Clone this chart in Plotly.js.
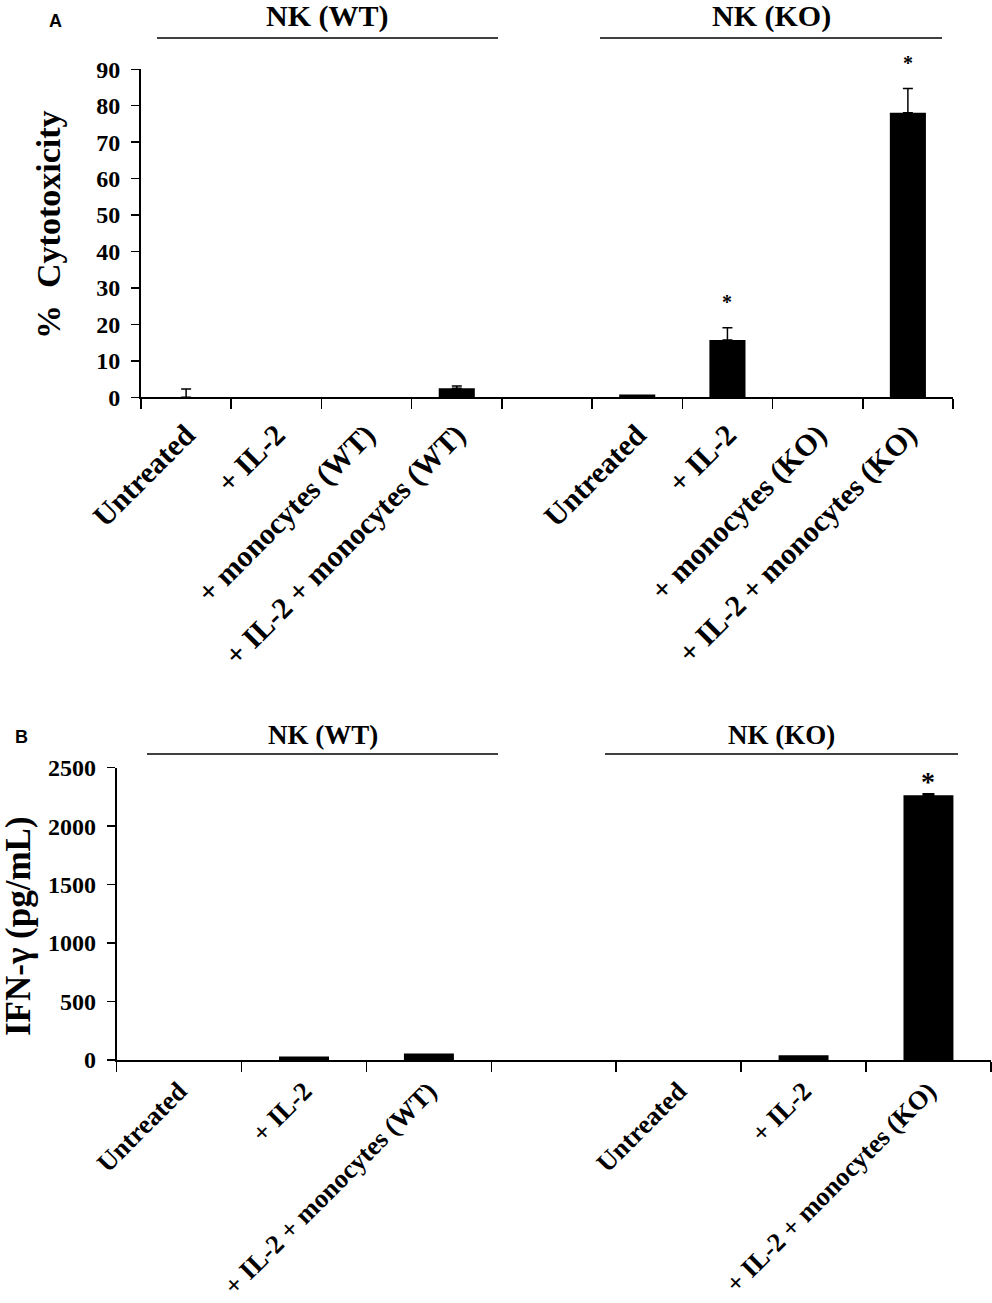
<!DOCTYPE html>
<html>
<head>
<meta charset="utf-8">
<script src="https://cdn.plot.ly/plotly-3.0.1.min.js"></script>
<style>
  body { margin: 0; background: #fff; }
  #chart { width: 992px; height: 1303px; }
</style>
</head>
<body>
<div id="chart"></div>
<script>
// Panel A: % cytotoxicity (blank slot separates WT and KO groups)
const catsA = ['Untreated', '+ IL-2', '+ monocytes (WT)', '+ IL-2 + monocytes (WT)', '',
               'Untreated', '+ IL-2', '+ monocytes (KO)', '+ IL-2 + monocytes (KO)'];
const cytotox = [0, 0, 0, 2.5, null, 0.8, 15.7, 0, 78.1];
const cytotoxErr = [2.3, null, null, 0.6, null, null, 3.4, null, 6.6];
const sigA = ['', '', '', '', '', '', '*', '', '*'];

// Panel B: IFN-gamma secretion
const catsB = ['Untreated', '+ IL-2', '+ IL-2 + monocytes (WT)', '',
               'Untreated', '+ IL-2', '+ IL-2 + monocytes (KO)'];
const ifng = [0, 30, 55, null, 0, 40, 2264];
const ifngErr = [null, null, null, null, null, null, 14];
const sigB = ['', '', '', '', '', '', '*'];

const ticksA = [0, 10, 20, 30, 40, 50, 60, 70, 80, 90];
const ticksB = [0, 500, 1000, 1500, 2000, 2500];

const SERIF = 'Liberation Serif, Times New Roman, serif';
const INK = '#000000';

const idx = arr => arr.map((_, i) => i);
const bounds = arr => arr.map((_, i) => i - 0.5).concat(arr.length - 0.5);

function barTrace(cats, vals, errs, xa, ya, capW) {
  // only the upper half of each error bar is shown; null = no bar
  return {
    type: 'bar',
    x: idx(cats), y: vals,
    xaxis: xa, yaxis: ya,
    width: 0.4,
    marker: { color: INK, line: { width: 0 } },
    error_y: {
      type: 'data', symmetric: false,
      array: errs.map(e => e == null ? NaN : e),
      arrayminus: errs.map(e => e == null ? NaN : 0),
      color: INK, thickness: 1.5, width: capW
    },
    hoverinfo: 'skip'
  };
}

function catAxis(cats, domain, anchor, tickSize, standoff) {
  return {
    domain: domain, anchor: anchor,
    range: [-0.5, cats.length - 0.5],
    tickmode: 'array', tickvals: idx(cats), ticktext: cats,
    ticks: '', tickangle: -45,
    tickfont: { family: SERIF, size: tickSize, color: INK, weight: 'bold' },
    ticklabelstandoff: standoff,
    showline: true, linecolor: INK, linewidth: 2,
    showgrid: false, zeroline: false,
    minor: { tickmode: 'array', tickvals: bounds(cats), ticks: 'outside',
             ticklen: 10, tickwidth: 1.5, tickcolor: INK, showgrid: false }
  };
}

function valAxis(ticks, domain, anchor, tickSize) {
  return {
    domain: domain, anchor: anchor,
    range: [ticks[0], ticks[ticks.length - 1]],
    tickmode: 'array', tickvals: ticks,
    ticks: 'outside', ticklen: 8, tickwidth: 1.5, tickcolor: INK,
    tickfont: { family: SERIF, size: tickSize, color: INK, weight: 'bold' },
    ticklabelstandoff: 6,
    showline: true, linecolor: INK, linewidth: 2,
    showgrid: false, zeroline: false
  };
}

function starNotes(sig, vals, errs, xref, yref, size, shift) {
  return sig.map((s, i) => s ? {
    x: i, y: vals[i] + (errs[i] || 0), xref: xref, yref: yref,
    text: s, showarrow: false, yanchor: 'middle', yshift: shift,
    font: { family: SERIF, size: size, color: INK, weight: 'bold' }
  } : null).filter(Boolean);
}

function header(text, x0, x1, yLine, yText, size) {
  return {
    shape: { type: 'line', xref: 'paper', yref: 'paper', x0: x0, x1: x1, y0: yLine, y1: yLine,
             line: { color: INK, width: 1.5 } },
    note: { xref: 'paper', yref: 'paper', x: (x0 + x1) / 2, y: yText, text: text,
            showarrow: false, xanchor: 'center', yanchor: 'middle',
            font: { family: SERIF, size: size, color: INK, weight: 'bold' } }
  };
}

const W = 992, H = 1303;
const px = v => v / W;
const py = v => 1 - v / H;

const heads = [
  header('NK (WT)', px(157), px(498), py(38), py(16), 30),
  header('NK (KO)', px(600), px(942), py(38), py(16), 30),
  header('NK (WT)', px(147), px(498), py(754), py(735), 27),
  header('NK (KO)', px(605), px(958), py(754), py(735), 27)
];

const layout = {
  width: W, height: H,
  margin: { t: 0, r: 0, b: 0, l: 0 },
  paper_bgcolor: '#ffffff', plot_bgcolor: '#ffffff',
  showlegend: false,
  xaxis: catAxis(catsA, [px(141), px(953)], 'y', 30, 6),
  yaxis: valAxis(ticksA, [py(397.3), py(69.3)], 'x', 24),
  xaxis2: catAxis(catsB, [px(116.7), px(990.9)], 'y2', 26.5, 3),
  yaxis2: valAxis(ticksB, [py(1060), py(767.7)], 'x2', 24),
  shapes: heads.map(h => h.shape),
  annotations: [
    ...heads.map(h => h.note),
    ...starNotes(sigA, cytotox, cytotoxErr, 'x', 'y', 20, 26),
    ...starNotes(sigB, ifng, ifngErr, 'x2', 'y2', 28, 12),
    { xref: 'paper', yref: 'paper', x: px(48), y: py(225), text: '%  Cytotoxicity',
      textangle: -90, showarrow: false, xanchor: 'center', yanchor: 'middle',
      font: { family: SERIF, size: 34, color: INK, weight: 'bold' } },
    { xref: 'paper', yref: 'paper', x: px(18), y: py(926), text: 'IFN-\u03b3 (pg/mL)',
      textangle: -90, showarrow: false, xanchor: 'center', yanchor: 'middle',
      font: { family: SERIF, size: 35, color: INK, weight: 'bold' } },
    { xref: 'paper', yref: 'paper', x: px(55), y: py(21), text: 'A',
      showarrow: false, xanchor: 'center', yanchor: 'middle',
      font: { family: 'Liberation Sans, Arial, sans-serif', size: 18, color: INK, weight: 'bold' } },
    { xref: 'paper', yref: 'paper', x: px(21), y: py(737), text: 'B',
      showarrow: false, xanchor: 'center', yanchor: 'middle',
      font: { family: 'Liberation Sans, Arial, sans-serif', size: 18, color: INK, weight: 'bold' } }
  ]
};

Plotly.newPlot('chart', [
  barTrace(catsA, cytotox, cytotoxErr, 'x', 'y', 5),
  barTrace(catsB, ifng, ifngErr, 'x2', 'y2', 6)
], layout, { displayModeBar: false, staticPlot: true });
</script>
</body>
</html>
